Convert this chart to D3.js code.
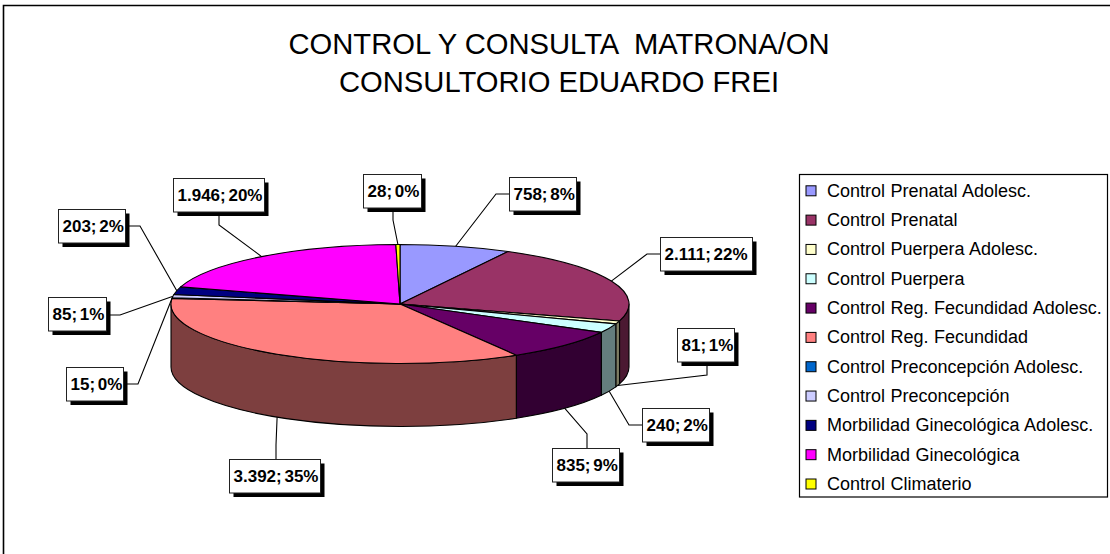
<!DOCTYPE html>
<html><head><meta charset="utf-8">
<style>html,body{margin:0;padding:0;background:#fff}svg{display:block}text{font-family:"Liberation Sans",Arial,sans-serif;fill:#000;white-space:pre}</style>
<script src="https://cdnjs.cloudflare.com/ajax/libs/d3/7.8.5/d3.min.js"></script>
</head><body><svg id="c" width="1110" height="554"></svg>
<script>
const titleLines = ["CONTROL Y CONSULTA  MATRONA/ON", "CONSULTORIO EDUARDO FREI"];
const categories = ["Control Prenatal Adolesc.","Control Prenatal","Control Puerpera Adolesc.","Control Puerpera","Control Reg. Fecundidad Adolesc.","Control Reg. Fecundidad","Control Preconcepción Adolesc.","Control Preconcepción","Morbilidad Ginecológica Adolesc.","Morbilidad Ginecológica","Control Climaterio"];
const values = [758,2111,81,240,835,3392,15,85,203,1946,28];
const valueLabels = ["758","2.111","81","240","835","3.392","15","85","203","1.946","28"];
const percentLabels = ["8%","22%","1%","2%","9%","35%","0%","1%","2%","20%","0%"];
const colors = ["#9999FF","#993366","#FFFFCC","#CCFFFF","#660066","#FF8080","#0066CC","#CCCCFF","#000080","#FF00FF","#FFFF00"];
const wallColors = colors.map(c => d3.rgb(c).darker(2).formatHex());
// label box layout: [left, top, width, elbowX, elbowY, startX, startY]
const labelLayout = [
 [509,177,67, 496,194, 509,194],
 [660,237,92, 647,254, 660,254],
 [677,328,57, 707,375, 707,361],
 [642,408,67, 629,425, 642,425],
 [552,448,67, 587,434, 587,448],
 [229,459,91, 276,445, 276,459],
 [66,367,57, 138,384, 123,384],
 [48,297,58, 120,315, 106,315],
 [58,209,67, 140,226, 125,226],
 [173,178,91, 219,225, 219,212],
 [363,174,58, 393,220, 393,207]
];
const svg = d3.select("#c");
svg.append("path").attr("d","M3.5,554V5.5H1110").attr("fill","none").attr("stroke","#000").attr("stroke-width",1.6);
svg.selectAll("text.t").data(titleLines).join("text").attr("class","t").attr("x",559).attr("y",(d,i)=>53.5+i*38)
  .attr("text-anchor","middle").attr("font-size",29.2).text(d=>d);

const cx=400, cy=304, rx=229, ry=59.5, depth=63;
const sx=d3.scaleLinear().domain([-1,1]).range([cx-rx,cx+rx]);
const sy=d3.scaleLinear().domain([-1,1]).range([cy-ry,cy+ry]);
const pie=d3.pie().sort(null).startAngle(0).endAngle(2*Math.PI).value(d=>d);
const arcs=pie(values);
const px=a=>sx(Math.sin(a)), py=a=>sy(-Math.cos(a));

// outer wall of the front half
const wall=arcs.map((d,i)=>({a0:Math.max(d.startAngle,Math.PI/2),a1:Math.min(d.endAngle,3*Math.PI/2),i})).filter(d=>d.a1>d.a0);
svg.append("g").selectAll("path").data(wall).join("path")
  .attr("d",d=>`M${px(d.a0)},${py(d.a0)}A${rx},${ry} 0 0 1 ${px(d.a1)},${py(d.a1)}L${px(d.a1)},${py(d.a1)+depth}A${rx},${ry} 0 0 0 ${px(d.a0)},${py(d.a0)+depth}Z`)
  .attr("fill",d=>wallColors[d.i]).attr("stroke","#000").attr("stroke-width",1.1).attr("stroke-linejoin","round");

// top face
const arc=d3.arc().innerRadius(0).outerRadius(rx);
svg.append("g").attr("transform",`translate(${cx},${cy}) scale(1,${ry/rx})`)
  .selectAll("path").data(arcs).join("path").attr("d",arc)
  .attr("fill",(d,i)=>colors[i]).attr("stroke","#000").attr("stroke-width",1.1)
  .attr("vector-effect","non-scaling-stroke").attr("stroke-linejoin","round");

// leader lines, anchored on each slice's mid angle
arcs.forEach((d,i)=>{
  const m=(d.startAngle+d.endAngle)/2, front=m>Math.PI/2&&m<3*Math.PI/2;
  const L=labelLayout[i];
  svg.append("path").attr("fill","none").attr("stroke","#000").attr("stroke-width",1.1)
    .attr("d",`M${L[5]},${L[6]}L${L[3]},${L[4]}L${px(m)},${py(m)+(front?depth:0)}`);
});

// labels
const boxH=33.5;
values.forEach((v,i)=>{
  const L=labelLayout[i], g=svg.append("g");
  g.append("rect").attr("x",L[0]+4.5).attr("y",L[1]+4.5).attr("width",L[2]).attr("height",boxH).attr("fill","#000");
  g.append("rect").attr("x",L[0]+.5).attr("y",L[1]+.5).attr("width",L[2]).attr("height",boxH).attr("fill","#fff").attr("stroke","#222").attr("stroke-width",1);
  g.append("text").attr("x",L[0]+4.5).attr("y",L[1]+22.5).attr("font-size",17).attr("font-weight","bold").attr("word-spacing",-2).text(valueLabels[i]+"; "+percentLabels[i]);
});

// legend
const lg=svg.append("g");
lg.append("rect").attr("x",799.5).attr("y",174.5).attr("width",308).attr("height",322.5).attr("fill","#fff").attr("stroke","#000").attr("stroke-width",1.2);
const rowY=d3.scaleLinear().domain([0,10]).range([190.8,484]);
lg.selectAll("rect.s").data(categories).join("rect").attr("class","s").attr("x",806).attr("y",(d,i)=>rowY(i)-5).attr("width",10).attr("height",10)
  .attr("fill",(d,i)=>colors[i]).attr("stroke","#000").attr("stroke-width",1);
lg.selectAll("text").data(categories).join("text").attr("x",827).attr("y",(d,i)=>rowY(i)+6).attr("font-size",18).attr("word-spacing",0.5).text(d=>d);
</script></body></html>
